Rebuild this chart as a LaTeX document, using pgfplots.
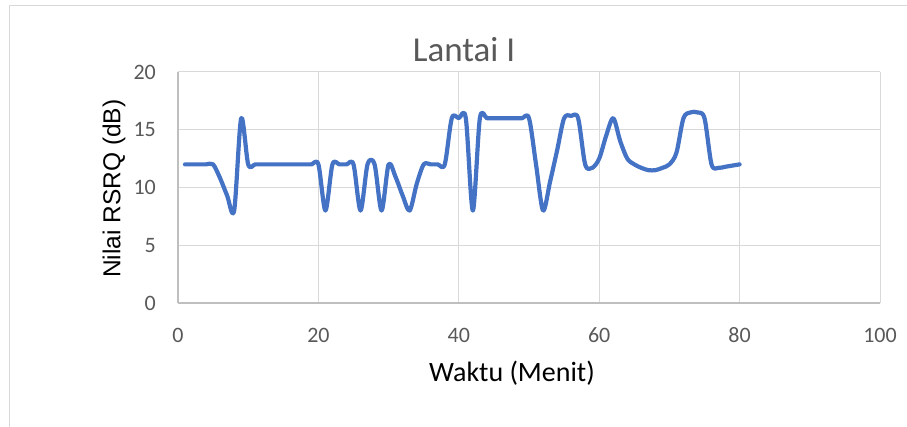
\documentclass[border=0pt]{standalone}
\usepackage{pgfplots}
\usepackage{pgfplotstable}
\pgfplotsset{compat=1.18}
\usepackage{fontspec}
\setmainfont{Carlito}
\newfontfamily\labelfont{Liberation Sans}

\definecolor{series}{HTML}{4472C4}
\definecolor{gridgray}{HTML}{D9D9D9}
\definecolor{axisgray}{HTML}{BFBFBF}
\definecolor{ticktext}{HTML}{595959}

% RSRQ per minute, first floor
\pgfplotstableread{
t v
1 12
2 12
3 12
4 12
5 12
6 10.8
7 9.3
8 8
9 16
10 12
11 12
12 12
13 12
14 12
15 12
16 12
17 12
18 12
19 12
20 12
21 8
22 12
23 12
24 12
25 12
26 8
27 12
28 12
29 8
30 12
31 10.9
32 9.3
33 8
34 10.3
35 12
36 12
37 12
38 12
39 16
40 16
41 16
42 8
43 16
44 16
45 16
46 16
47 16
48 16
49 16
50 16
51 12
52 8
53 10.5
54 13.2
55 16
56 16.2
57 16
58 12
59 11.7
60 12.5
61 14.5
62 16
63 14
64 12.5
65 12
66 11.7
67 11.5
68 11.5
69 11.7
70 12
71 13
72 16
73 16.5
74 16.5
75 16
76 12
77 11.7
78 11.8
79 11.9
80 12
}\rsrq

\begin{document}
\begin{tikzpicture}[x=1pt,y=1pt]
\useasboundingbox (0,0) rectangle (907,427);
% chart area frame
\draw[gridgray, line width=1pt] (9.5,0) -- (9.5,421.5) -- (907,421.5);

\begin{axis}[
  at={(178pt,124pt)}, anchor=south west,
  scale only axis, width=702pt, height=231pt,
  xmin=0, xmax=100, ymin=0, ymax=20,
  xtick={0,20,...,100}, ytick={0,5,...,20},
  grid=major,
  major grid style={gridgray, line width=1pt},
  axis lines=left,
  axis line style={-, axisgray, line width=1.2pt},
  major tick length=0pt,
  /pgf/number format/assume math mode=true,
  tick label style={font=\fontsize{22}{22}\selectfont, text=ticktext},
  xticklabel style={anchor=center, inner sep=0pt, yshift=-32.5pt},
  yticklabel style={anchor=east, inner sep=0pt, xshift=-22pt},
  clip=false,
]
\addplot[series, line width=4.2pt, smooth, tension=0.5, line join=round, line cap=round] table[x=t, y=v] {\rsrq};
\end{axis}

\node[anchor=base, text=ticktext, font=\fontsize{35}{35}\selectfont] at (464,365.3) {Lantai I};
\node[anchor=base, text=black, font=\fontsize{28}{28}\selectfont] at (512,45.3) {Waktu (Menit)};
\node[rotate=90, anchor=center, text=black, font=\labelfont\fontsize{24.5}{24.5}\selectfont] at (114,238.3) {Nilai RSRQ (dB)};
\end{tikzpicture}
\end{document}
